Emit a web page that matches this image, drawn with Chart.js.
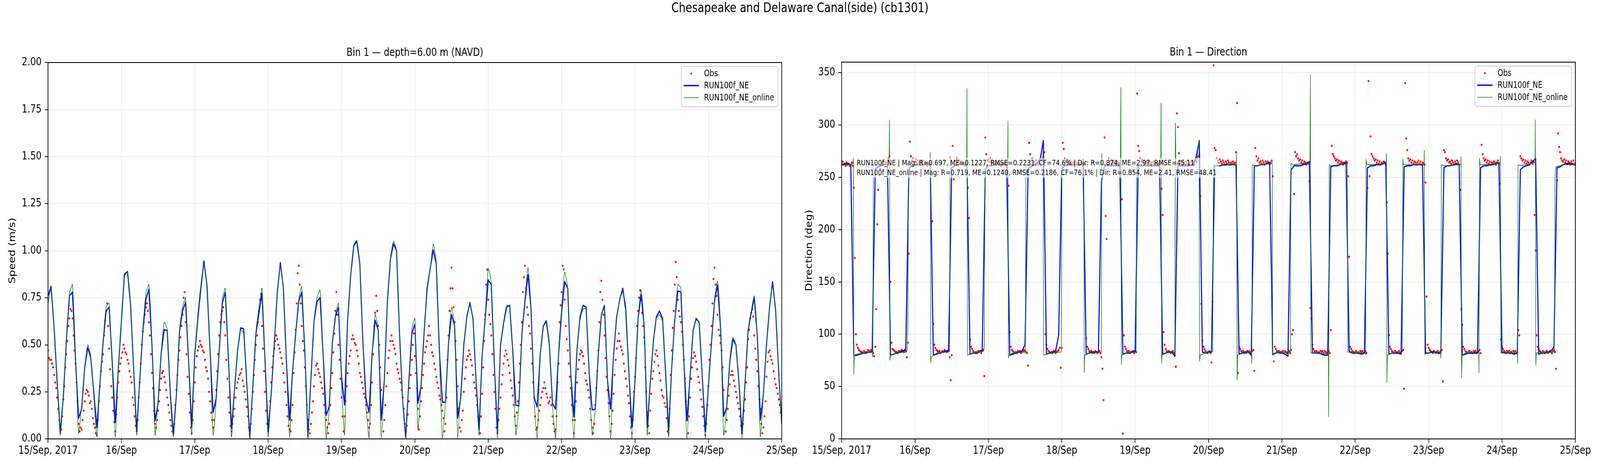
<!DOCTYPE html>
<html>
<head>
<meta charset="utf-8">
<title>Chesapeake and Delaware Canal(side) (cb1301)</title>
<script src="https://cdn.jsdelivr.net/npm/chart.js@4.4.1/dist/chart.umd.min.js"></script>
<style>
  html, body { margin: 0; padding: 0; background: #fff; overflow: hidden; }
  #wrap { position: relative; width: 5000px; height: 1200px; transform-origin: 0 0; }
  #suptitle { position: absolute; left: 0; top: 0; width: 5000px; text-align: center;
              font-family: 'DejaVu Sans', sans-serif; font-size: 33.3px; line-height: 40px; color: #000; }
  canvas { position: absolute; top: 0; }
</style>
</head>
<body>
<div id="wrap">
  <canvas id="speedChart" width="2500" height="1200" style="left:0"></canvas>
  <canvas id="dirChart" width="2500" height="1200" style="left:2500px"></canvas>
  <div id="suptitle">Chesapeake and Delaware Canal(side) (cb1301)</div>
</div>
<script>
// the figure is laid out on a 5000 x 1200 grid and squeezed to the real window width
document.getElementById('wrap').style.transform = 'scale(' + (window.innerWidth / 5000) + ', 1)';

// x axis is hours since 15 Sep 2017 00:00
const dayLabels = ['15/Sep, 2017', '16/Sep', '17/Sep', '18/Sep', '19/Sep', '20/Sep',
                   '21/Sep', '22/Sep', '23/Sep', '24/Sep', '25/Sep'];
const seriesNames = ['Obs', 'RUN100f_NE', 'RUN100f_NE_online'];
const statsLines = [
  'RUN100f_NE | Mag: R=0.697, ME=0.1227, RMSE=0.2231, CF=74.6% | Dir: R=0.874, ME=2.97, RMSE=45.11',
  'RUN100f_NE_online | Mag: R=0.719, ME=0.1240, RMSE=0.2186, CF=76.1% | Dir: R=0.854, ME=2.41, RMSE=48.41'
];

const modelStep = 1;      // hourly model output
const obsStep = 1 / 3;    // 20 min observations

// speed (m/s), model RUN100f_NE, hourly
const speedRun = [
  0.76,0.81,0.59,0.30,0.03,0.22,0.52,0.76,0.78,0.42,0.11,0.16,0.38,0.485,0.43,0.24,0.06,0.30,0.51,0.68,0.70,0.41,0.087,0.37,
  0.625,0.875,0.89,0.716,0.375,0.038,0.31,0.57,0.74,0.795,0.50,0.095,0.19,0.455,0.58,0.576,0.24,0.023,0.235,0.57,0.68,0.727,0.41,0.064,
  0.45,0.64,0.80,0.945,0.815,0.47,0.14,0.215,0.47,0.72,0.78,0.43,0.055,0.26,0.47,0.59,0.585,0.30,0.005,0.28,0.56,0.67,0.775,0.41,
  0.04,0.24,0.50,0.78,0.937,0.80,0.40,0.10,0.36,0.56,0.73,0.78,0.47,0.01,0.32,0.626,0.73,0.75,0.445,0.125,0.174,0.51,0.65,0.70,
  0.33,0.18,0.63,0.87,1.025,1.05,0.93,0.51,0.215,0.14,0.45,0.63,0.58,0.10,0.31,0.73,0.955,1.037,1.0,0.55,0.20,0.006,0.30,0.56,
  0.61,0.19,0.28,0.56,0.80,0.905,1.004,0.93,0.47,0.195,0.195,0.51,0.66,0.60,0.11,0.22,0.50,0.65,0.725,0.64,0.31,0.05,0.445,0.64,
  0.845,0.82,0.39,0.035,0.50,0.614,0.70,0.71,0.47,0.18,0.175,0.56,0.73,0.873,0.69,0.22,0.17,0.45,0.60,0.626,0.50,0.19,0.158,0.45,
  0.675,0.836,0.80,0.34,0.117,0.47,0.647,0.71,0.70,0.35,0.154,0.158,0.45,0.66,0.71,0.31,0.158,0.45,0.65,0.74,0.80,0.68,0.35,0.063,
  0.31,0.64,0.766,0.60,0.06,0.30,0.52,0.65,0.68,0.64,0.35,0.043,0.38,0.634,0.786,0.78,0.40,0.10,0.33,0.577,0.64,0.618,0.33,0.039,
  0.28,0.51,0.733,0.817,0.585,0.12,0.17,0.41,0.53,0.50,0.30,0.03,0.30,0.577,0.67,0.75,0.55,0.10,0.24,0.50,0.70,0.836,0.68,0.35,
  0.076
];

// speed (m/s), model RUN100f_NE_online, hourly
const speedOnline = [
  0.72,0.80,0.58,0.30,0.02,0.22,0.52,0.77,0.82,0.45,0.03,0.18,0.38,0.50,0.44,0.22,0.01,0.30,0.52,0.70,0.72,0.38,0.01,0.36,
  0.62,0.86,0.89,0.72,0.36,0.02,0.32,0.58,0.77,0.82,0.52,0.02,0.20,0.46,0.62,0.58,0.22,0.01,0.24,0.58,0.70,0.75,0.40,0.02,
  0.45,0.66,0.82,0.93,0.82,0.46,0.02,0.20,0.47,0.74,0.80,0.42,0.01,0.26,0.47,0.58,0.56,0.28,0.00,0.29,0.57,0.70,0.80,0.40,
  0.01,0.24,0.50,0.78,0.92,0.80,0.38,0.01,0.36,0.57,0.74,0.81,0.46,0.00,0.33,0.63,0.75,0.79,0.43,0.00,0.16,0.50,0.66,0.72,
  0.30,0.02,0.62,0.87,1.03,1.055,0.93,0.50,0.18,0.00,0.44,0.66,0.58,0.00,0.31,0.73,0.96,1.05,1.0,0.55,0.20,0.00,0.31,0.58,
  0.64,0.05,0.28,0.55,0.78,0.90,1.035,0.94,0.45,0.00,0.20,0.52,0.70,0.60,0.00,0.25,0.50,0.65,0.72,0.63,0.30,0.02,0.44,0.66,
  0.905,0.83,0.38,0.00,0.50,0.62,0.71,0.70,0.46,0.02,0.18,0.56,0.75,0.91,0.70,0.20,0.00,0.45,0.60,0.63,0.50,0.18,0.00,0.46,
  0.70,0.885,0.80,0.33,0.00,0.46,0.63,0.69,0.69,0.34,0.02,0.16,0.45,0.66,0.71,0.30,0.00,0.45,0.64,0.74,0.78,0.70,0.35,0.00,
  0.30,0.64,0.79,0.60,0.02,0.30,0.52,0.64,0.66,0.62,0.33,0.01,0.38,0.63,0.82,0.80,0.38,0.00,0.33,0.58,0.63,0.62,0.32,0.00,
  0.28,0.51,0.74,0.84,0.60,0.02,0.17,0.42,0.54,0.50,0.28,0.00,0.30,0.58,0.68,0.76,0.55,0.01,0.24,0.50,0.70,0.81,0.67,0.34,
  0.08
];

// speed (m/s), observations every 20 min
const speedObs = [
  0.47,0.43,0.42,0.42,0.40,0.38,0.34,0.30,0.27,0.22,0.16,0.10,0.04,0.05,0.12,0.21,0.28,0.38,0.45,0.52,0.60,0.64,0.69,0.68,
  0.64,0.55,0.47,0.40,0.30,0.20,0.08,0.04,0.06,0.05,0.10,0.15,0.20,0.24,0.26,0.25,0.23,0.19,0.20,0.16,0.11,0.08,0.06,0.03,
  0.02,0.10,0.20,0.28,0.36,0.41,0.45,0.55,0.63,0.68,0.72,0.60,0.48,0.37,0.28,0.22,0.15,0.09,0.04,0.13,0.22,0.30,0.36,0.40,
  0.43,0.46,0.50,0.48,0.46,0.45,0.42,0.40,0.36,0.33,0.30,0.22,0.18,0.12,0.07,0.04,0.10,0.22,0.30,0.40,0.50,0.57,0.62,0.66,
  0.70,0.72,0.68,0.62,0.55,0.45,0.35,0.27,0.15,0.08,0.06,0.10,0.15,0.20,0.26,0.32,0.35,0.36,0.33,0.30,0.26,0.22,0.18,0.14,
  0.10,0.07,0.04,0.03,0.08,0.18,0.26,0.34,0.42,0.47,0.54,0.60,0.66,0.75,0.78,0.62,0.45,0.33,0.24,0.14,0.06,0.03,0.10,0.20,
  0.30,0.38,0.44,0.47,0.49,0.52,0.50,0.49,0.47,0.46,0.42,0.38,0.36,0.32,0.25,0.20,0.14,0.10,0.06,0.10,0.18,0.26,0.36,0.45,
  0.55,0.62,0.66,0.68,0.70,0.62,0.55,0.42,0.32,0.22,0.14,0.07,0.04,0.08,0.12,0.16,0.22,0.27,0.30,0.32,0.34,0.35,0.37,0.31,
  0.28,0.25,0.21,0.17,0.12,0.06,0.03,0.08,0.16,0.25,0.34,0.42,0.50,0.55,0.62,0.68,0.74,0.77,0.60,0.48,0.36,0.25,0.15,0.08,
  0.04,0.10,0.20,0.30,0.38,0.44,0.48,0.52,0.55,0.53,0.50,0.48,0.46,0.43,0.40,0.35,0.30,0.25,0.18,0.12,0.07,0.05,0.04,0.10,
  0.18,0.35,0.46,0.58,0.72,0.88,0.92,0.82,0.72,0.60,0.52,0.47,0.38,0.28,0.18,0.10,0.05,0.03,0.08,0.14,0.20,0.28,0.34,0.39,
  0.40,0.37,0.35,0.33,0.30,0.27,0.24,0.18,0.14,0.10,0.06,0.03,0.08,0.18,0.27,0.35,0.46,0.56,0.68,0.78,0.66,0.50,0.42,0.32,
  0.22,0.12,0.04,0.12,0.20,0.28,0.35,0.40,0.44,0.47,0.53,0.55,0.53,0.51,0.50,0.47,0.44,0.40,0.35,0.33,0.30,0.27,0.24,0.22,
  0.18,0.14,0.10,0.06,0.08,0.18,0.30,0.45,0.60,0.67,0.76,0.68,0.60,0.50,0.38,0.26,0.14,0.04,0.10,0.18,0.28,0.35,0.43,0.47,
  0.52,0.55,0.52,0.50,0.48,0.45,0.40,0.37,0.35,0.32,0.30,0.26,0.22,0.16,0.08,0.03,0.07,0.13,0.20,0.27,0.34,0.42,0.50,0.56,
  0.44,0.35,0.27,0.16,0.05,0.12,0.20,0.27,0.34,0.40,0.46,0.49,0.52,0.55,0.60,0.55,0.50,0.46,0.44,0.40,0.37,0.33,0.30,0.27,
  0.23,0.21,0.18,0.15,0.11,0.04,0.08,0.22,0.42,0.55,0.68,0.80,0.91,0.80,0.70,0.62,0.52,0.42,0.28,0.16,0.06,0.04,0.10,0.15,
  0.25,0.32,0.38,0.42,0.44,0.47,0.45,0.42,0.39,0.34,0.30,0.27,0.23,0.18,0.12,0.06,0.03,0.12,0.24,0.38,0.52,0.66,0.82,0.90,
  0.74,0.66,0.61,0.55,0.45,0.34,0.25,0.16,0.06,0.03,0.10,0.16,0.22,0.29,0.34,0.40,0.44,0.47,0.45,0.42,0.39,0.35,0.31,0.27,
  0.23,0.18,0.12,0.07,0.14,0.20,0.30,0.40,0.50,0.62,0.78,0.86,0.92,0.80,0.70,0.66,0.60,0.56,0.48,0.40,0.30,0.22,0.12,0.05,
  0.06,0.10,0.15,0.18,0.22,0.25,0.27,0.30,0.27,0.24,0.22,0.19,0.20,0.22,0.18,0.12,0.08,0.04,0.05,0.12,0.30,0.40,0.62,0.71,
  0.78,0.92,0.90,0.74,0.60,0.53,0.47,0.40,0.33,0.27,0.18,0.10,0.03,0.10,0.20,0.30,0.37,0.42,0.45,0.47,0.46,0.44,0.40,0.35,
  0.31,0.29,0.26,0.22,0.16,0.10,0.06,0.03,0.08,0.18,0.27,0.36,0.47,0.62,0.78,0.84,0.74,0.66,0.55,0.43,0.33,0.26,0.19,0.12,
  0.04,0.08,0.15,0.24,0.34,0.42,0.48,0.52,0.56,0.52,0.49,0.47,0.45,0.40,0.36,0.32,0.28,0.23,0.19,0.12,0.06,0.03,0.10,0.25,
  0.33,0.43,0.60,0.68,0.75,0.79,0.74,0.67,0.60,0.54,0.38,0.25,0.14,0.07,0.03,0.15,0.24,0.32,0.36,0.41,0.45,0.47,0.44,0.39,
  0.35,0.31,0.26,0.23,0.22,0.19,0.17,0.11,0.04,0.03,0.16,0.34,0.47,0.59,0.68,0.82,0.94,0.86,0.74,0.68,0.65,0.62,0.57,0.50,
  0.42,0.32,0.20,0.10,0.03,0.12,0.22,0.32,0.38,0.43,0.46,0.44,0.41,0.37,0.33,0.30,0.26,0.21,0.17,0.12,0.07,0.02,0.08,0.18,
  0.28,0.42,0.50,0.60,0.72,0.85,0.91,0.82,0.76,0.66,0.58,0.55,0.51,0.47,0.38,0.26,0.14,0.04,0.10,0.16,0.23,0.29,0.34,0.36,
  0.34,0.31,0.28,0.25,0.22,0.19,0.16,0.12,0.07,0.03,0.08,0.15,0.21,0.30,0.38,0.53,0.58,0.64,0.67,0.69,0.65,0.55,0.48,0.42,
  0.36,0.28,0.21,0.16,0.08,0.03,0.06,0.12,0.20,0.33,0.41,0.46,0.47,0.44,0.42,0.40,0.36,0.32,0.29,0.27,0.24,0.21,0.18,0.14,
  0.12
];

// direction (deg), model RUN100f_NE, hourly
const dirRun = [
  262,263,263,262,80,80,81,82,82,83,83,258,260,261,262,262,80,81,82,83,84,85,258,261,
  262,262,262,262,262,262,80,81,82,83,84,84,259,261,262,262,262,262,81,82,82,83,85,258,
  261,261,262,262,262,262,262,80,81,82,83,84,90,258,260,262,264,268,285,81,82,83,84,99,
  258,261,262,262,262,262,262,262,81,82,83,83,83,246,261,261,261,261,261,261,81,82,82,83,
  84,261,261,261,261,261,261,261,261,81,82,83,83,79,261,261,261,261,261,262,270,285,83,82,
  83,83,261,261,261,262,262,262,262,262,81,82,83,83,80,261,261,262,262,263,264,81,82,83,
  82,81,79,257,261,261,261,262,263,265,82,82,82,81,80,80,260,261,261,262,263,264,84,82,
  82,82,81,82,259,261,261,262,262,263,264,81,82,82,82,81,260,261,261,262,262,262,262,82,
  82,83,83,82,82,259,261,261,262,263,262,80,81,82,82,82,82,259,261,261,262,262,263,264,
  83,82,82,82,81,82,257,260,261,262,265,268,81,82,82,83,84,88,259,260,262,263,263,263,
  262
];

// direction (deg), model RUN100f_NE_online, line vertices [hour, deg]
const dirOnlinePts = [
  [0,261],[0.5,262],[2,262],[3.7,263],[3.83,268],[4.0,62],[4.17,80],[5,81],[7,82],[10.1,83],
  [10.2,78],[10.37,262],[11,261],[13,262],[15.5,262],[15.67,305],[15.83,75],[16,80],[18,82],[21.3,83],
  [21.5,85],[21.67,110],[21.83,240],[22,258],[22.5,261],[28.9,262],[29.0,274],[29.17,73],[29.33,78],[31,82],[35.2,83],
  [35.33,84],[35.5,270],[35.67,262],[40.9,262],[41.0,335],[41.17,80],[42,81],[46.5,84],
  [46.67,90],[46.83,200],[47,255],[47.3,261],[54.3,262],[54.4,304],[54.57,77],[54.73,80],[56,82],[60.0,83],
  [60.1,84],[60.27,262],[61,261],[65.8,264],[65.9,276],[66.07,80],[68,82],[71.8,83],
  [71.9,84],[72.07,262],[73,261],[79.1,262],[79.2,264],[79.37,63],[79.53,80],[81,82],[84.9,83],
  [84.95,84],[85.1,273],[85.27,262],[91.2,262],[91.33,336],[91.5,71],[91.67,80],[93,82],[96.3,83],
  [96.33,84],[96.5,262],[97,261],[104.4,262],[104.5,321],[104.67,72],[104.83,80],[106,82],[108.9,83],
  [109.0,80],[109.17,302],[109.33,262],[116,263],[116.9,284],[117.1,74],[117.27,80],[119,82],[121.3,83],
  [121.4,84],[121.57,262],[122,261],[129.1,262],[129.2,274],[129.37,56],[129.53,80],[131,82],[134.0,83],
  [134.17,72],[134.33,262],[135,261],[140.8,263],[140.85,266],[141.0,80],[142,82],[146.7,83],
  [146.8,82],[146.95,263],[148,262],[153.2,264],[153.33,348],[153.5,82],[155,82],[159.2,81],
  [159.33,21],[159.5,262],[160,261],[165.3,263],[165.4,264],[165.57,83],[167,82],[171.3,82],
  [171.4,80],[171.57,266],[171.8,262],[178.1,263],[178.2,273],[178.37,54],[178.53,80],[180,82],[183.3,83],
  [183.4,84],[183.57,268],[183.73,262],[190.5,262],[190.6,276],[190.77,81],[192,82],[195.9,83],
  [196.0,77],[196.17,262],[197,261],[202.5,262],[202.6,270],[202.77,58],[202.93,80],[204,82],[208.4,83],
  [208.5,63],[208.67,268],[208.83,262],[215.4,263],[215.5,270],[215.67,82],[217,82],[221.0,82],
  [221.1,72],[221.27,262],[222,261],[226.8,264],[226.9,305],[227.07,70],[227.23,82],[229,82],[233.0,83],
  [233.05,85],[233.2,140],[233.35,250],[233.6,260],[236,262],[240,262]
];

// direction (deg), observations every 20 min
const dirObs = [
  264,265,262,263,261,264,262,263,261,262,264,261,240,173,100,90,87,85,84,83,83,82,84,83,
  82,83,85,84,83,85,84,82,79,88,124,205,238,252,258,262,264,266,265,263,264,266,268,270,
  150,92,86,85,84,83,83,82,84,83,84,85,84,83,85,84,78,92,177,284,270,266,268,264,
  265,267,263,266,264,262,265,263,266,262,264,263,261,263,262,262,264,208,110,90,87,85,84,83,
  84,82,83,84,83,85,84,83,84,85,78,56,80,280,248,262,266,268,264,266,263,265,262,264,
  263,261,264,262,240,211,95,88,86,84,83,82,83,82,84,83,84,82,84,85,60,288,272,266,
  267,265,268,264,266,263,265,263,262,264,262,263,261,263,262,264,262,263,262,264,242,102,88,85,
  84,83,82,83,82,84,83,84,82,83,84,85,84,83,82,70,283,272,266,268,264,265,263,266,
  264,262,265,263,266,268,270,274,100,90,86,84,83,82,83,82,84,83,82,83,84,85,87,68,
  87,283,277,268,265,267,264,266,263,265,262,264,263,265,262,264,262,263,262,264,263,261,263,262,
  96,88,86,84,83,84,82,83,82,84,83,82,83,84,82,78,67,37,288,213,191,262,268,265,
  266,263,265,264,266,263,265,262,264,263,262,229,5,99,88,86,84,83,84,82,83,83,84,82,
  84,83,330,280,275,268,265,267,264,266,263,265,264,262,265,263,264,262,265,263,264,262,264,263,
  262,265,239,214,102,90,86,84,83,84,83,82,83,84,82,80,69,311,298,273,266,265,263,266,
  264,262,265,263,266,264,262,265,263,264,262,266,265,268,270,272,232,129,94,88,86,84,83,82,
  83,84,82,73,131,357,278,276,268,266,264,267,265,263,266,264,262,265,263,266,264,262,264,263,
  265,263,264,274,321,63,88,86,84,83,84,82,83,82,84,83,84,82,83,84,85,65,278,270,
  266,268,264,265,263,266,264,262,265,263,265,264,262,264,266,251,74,88,86,84,83,84,82,83,
  83,84,82,84,83,82,83,84,82,85,100,104,234,274,270,272,268,266,267,264,266,263,265,264,
  262,264,263,246,125,115,90,86,84,83,84,82,83,82,84,83,84,82,84,83,82,83,84,82,
  104,280,272,270,268,266,267,264,266,263,265,264,262,264,263,265,264,251,174,88,86,84,83,82,
  83,84,82,83,82,84,83,84,82,83,84,82,240,342,251,289,272,270,268,266,267,264,266,263,
  265,262,264,263,265,264,262,226,177,99,88,86,84,83,82,84,83,82,83,84,82,83,84,85,
  48,340,287,276,268,266,267,264,266,263,265,264,262,264,266,263,265,262,264,263,262,245,136,90,
  87,85,84,83,82,84,83,82,83,84,82,83,84,85,55,276,274,268,266,267,264,265,263,266,
  264,262,265,263,266,264,262,238,124,109,88,86,84,83,82,83,84,82,83,82,84,83,84,82,
  83,84,85,82,281,272,268,266,267,264,266,263,265,262,264,263,265,264,262,264,266,263,244,95,
  88,86,84,83,82,84,83,84,82,83,82,84,83,84,82,83,104,99,270,268,266,267,264,266,
  263,265,264,262,264,266,263,265,214,180,99,88,86,84,83,82,84,83,82,83,84,82,83,84,
  83,82,84,85,83,67,247,292,279,274,268,266,265,267,264,266,263,265,264,262,265,263,266,262,
  264
];

const FONT = "'DejaVu Sans', sans-serif";
const GRID = '#e6e6e6';

function series(values, step) {
  return values.map((v, i) => ({ x: i * step, y: v }));
}

// subplot title, frame, legend box and optional stats box
const decorPlugin = {
  id: 'decor',
  afterDatasetsDraw(chart, args, opts) {
    const { ctx, chartArea: a } = chart;
    ctx.save();
    if (opts.stats) {
      ctx.font = '19.4px ' + FONT;
      const w = Math.max(...opts.stats.map(s => ctx.measureText(s).width)) + 14;
      ctx.fillStyle = 'rgba(255,255,255,0.6)';
      ctx.fillRect(a.left + 40, a.top + 245, w, 51);
      ctx.fillStyle = '#000';
      ctx.textAlign = 'left';
      ctx.textBaseline = 'middle';
      opts.stats.forEach((s, i) => ctx.fillText(s, a.left + 47, a.top + 259 + i * 25));
    }
    ctx.strokeStyle = '#000';
    ctx.lineWidth = 2.2;
    ctx.strokeRect(a.left, a.top, a.right - a.left, a.bottom - a.top);
    ctx.restore();
  },
  afterDraw(chart, args, opts) {
    const { ctx, chartArea: a } = chart;
    ctx.save();
    ctx.fillStyle = '#000';
    ctx.font = '27.8px ' + FONT;
    ctx.textAlign = 'center';
    ctx.textBaseline = 'alphabetic';
    ctx.fillText(opts.title, (a.left + a.right) / 2, a.top - 17);

    // legend
    const sets = chart.data.datasets;
    ctx.font = '22.2px ' + FONT;
    const tw = Math.max(...sets.map(d => ctx.measureText(d.label).width));
    const w = 71 + tw + 12, h = 103;
    const x0 = a.right - 12 - w, y0 = a.top + 10;
    ctx.beginPath();
    ctx.roundRect(x0, y0, w, h, 6);
    ctx.fillStyle = 'rgba(255,255,255,0.8)';
    ctx.fill();
    ctx.strokeStyle = '#cccccc';
    ctx.lineWidth = 2;
    ctx.stroke();
    sets.forEach((d, i) => {
      const y = y0 + 18 + i * 31;
      if (d.showLine === false) {
        ctx.beginPath();
        ctx.arc(x0 + 31, y, 2.6, 0, Math.PI * 2);
        ctx.fillStyle = d.pointBackgroundColor;
        ctx.fill();
      } else {
        ctx.beginPath();
        ctx.moveTo(x0 + 7, y);
        ctx.lineTo(x0 + 55, y);
        ctx.strokeStyle = d.borderColor;
        ctx.lineWidth = d.borderWidth;
        ctx.stroke();
      }
      ctx.fillStyle = '#000';
      ctx.textAlign = 'left';
      ctx.textBaseline = 'middle';
      ctx.fillText(d.label, x0 + 71, y + 1);
    });
    ctx.restore();
  }
};

function makeDatasets(obs, run, online, onlineTension) {
  return [
    { label: seriesNames[0], data: obs, showLine: false, pointRadius: 2.8, pointHoverRadius: 0,
      pointBackgroundColor: 'red', pointBorderWidth: 0, borderColor: 'red', order: 2 },
    { label: seriesNames[1], data: run, borderColor: 'blue', borderWidth: 3.3, pointRadius: 0,
      borderJoinStyle: 'round', tension: 0, order: 1 },
    { label: seriesNames[2], data: online, borderColor: 'green', borderWidth: 1.7, pointRadius: 0,
      tension: onlineTension, order: 0 }
  ];
}

function makeOptions(cfg) {
  const tickFont = { family: FONT, size: 27.8 };
  return {
    responsive: false,
    animation: false,
    devicePixelRatio: 1,
    layout: { padding: { left: cfg.padLeft, right: cfg.padRight, top: cfg.padTop, bottom: 0 } },
    plugins: {
      legend: { display: false },
      tooltip: { enabled: false },
      decor: { title: cfg.title, stats: cfg.stats }
    },
    scales: {
      x: {
        type: 'linear', min: 0, max: 240,
        afterFit: s => { s.height = 1200 - cfg.bottom; },
        afterBuildTicks: s => { s.ticks = dayLabels.map((_, i) => ({ value: i * 24 })); },
        ticks: { autoSkip: false, maxRotation: 0, color: '#000', font: tickFont, padding: 4,
                 callback: v => dayLabels[Math.round(v / 24)] },
        grid: { color: GRID, lineWidth: 1.5, tickLength: 10, tickColor: '#000', tickWidth: 2 },
        border: { display: false }
      },
      y: {
        min: cfg.yMin, max: cfg.yMax,
        afterFit: s => { s.width = cfg.yWidth; },
        afterBuildTicks: s => { s.ticks = cfg.yTicks.map(v => ({ value: v })); },
        ticks: { color: '#000', font: tickFont, padding: 10, callback: cfg.yFmt },
        title: { display: true, text: cfg.yTitle, color: '#000', font: tickFont, padding: { top: 4, bottom: 4 } },
        grid: { color: GRID, lineWidth: 1.5, tickLength: 10, tickColor: '#000', tickWidth: 2 },
        border: { display: false }
      }
    }
  };
}

const speedTicks = [0, 0.25, 0.5, 0.75, 1.0, 1.25, 1.5, 1.75, 2.0];
const dirTicks = [0, 50, 100, 150, 200, 250, 300, 350];

new Chart(document.getElementById('speedChart'), {
  type: 'line',
  data: { datasets: makeDatasets(series(speedObs, obsStep), series(speedRun, modelStep),
                                 series(speedOnline, modelStep), 0.2) },
  options: makeOptions({
    title: 'Bin 1 \u2014 depth=6.00 m (NAVD)', yTitle: 'Speed (m/s)',
    yMin: 0, yMax: 2, yTicks: speedTicks, yFmt: v => v.toFixed(2),
    padLeft: 19, yWidth: 131, padRight: 57, padTop: 160, bottom: 1123
  }),
  plugins: [decorPlugin]
});

new Chart(document.getElementById('dirChart'), {
  type: 'line',
  data: { datasets: makeDatasets(series(dirObs, obsStep), series(dirRun, modelStep),
                                 dirOnlinePts.map(p => ({ x: p[0], y: p[1] })), 0) },
  options: makeOptions({
    title: 'Bin 1 \u2014 Direction', yTitle: 'Direction (deg)', stats: statsLines,
    yMin: 0, yMax: 360, yTicks: dirTicks, yFmt: v => String(v),
    padLeft: 9, yWidth: 121, padRight: 77, padTop: 159, bottom: 1123
  }),
  plugins: [decorPlugin]
});
</script>
</body>
</html>
